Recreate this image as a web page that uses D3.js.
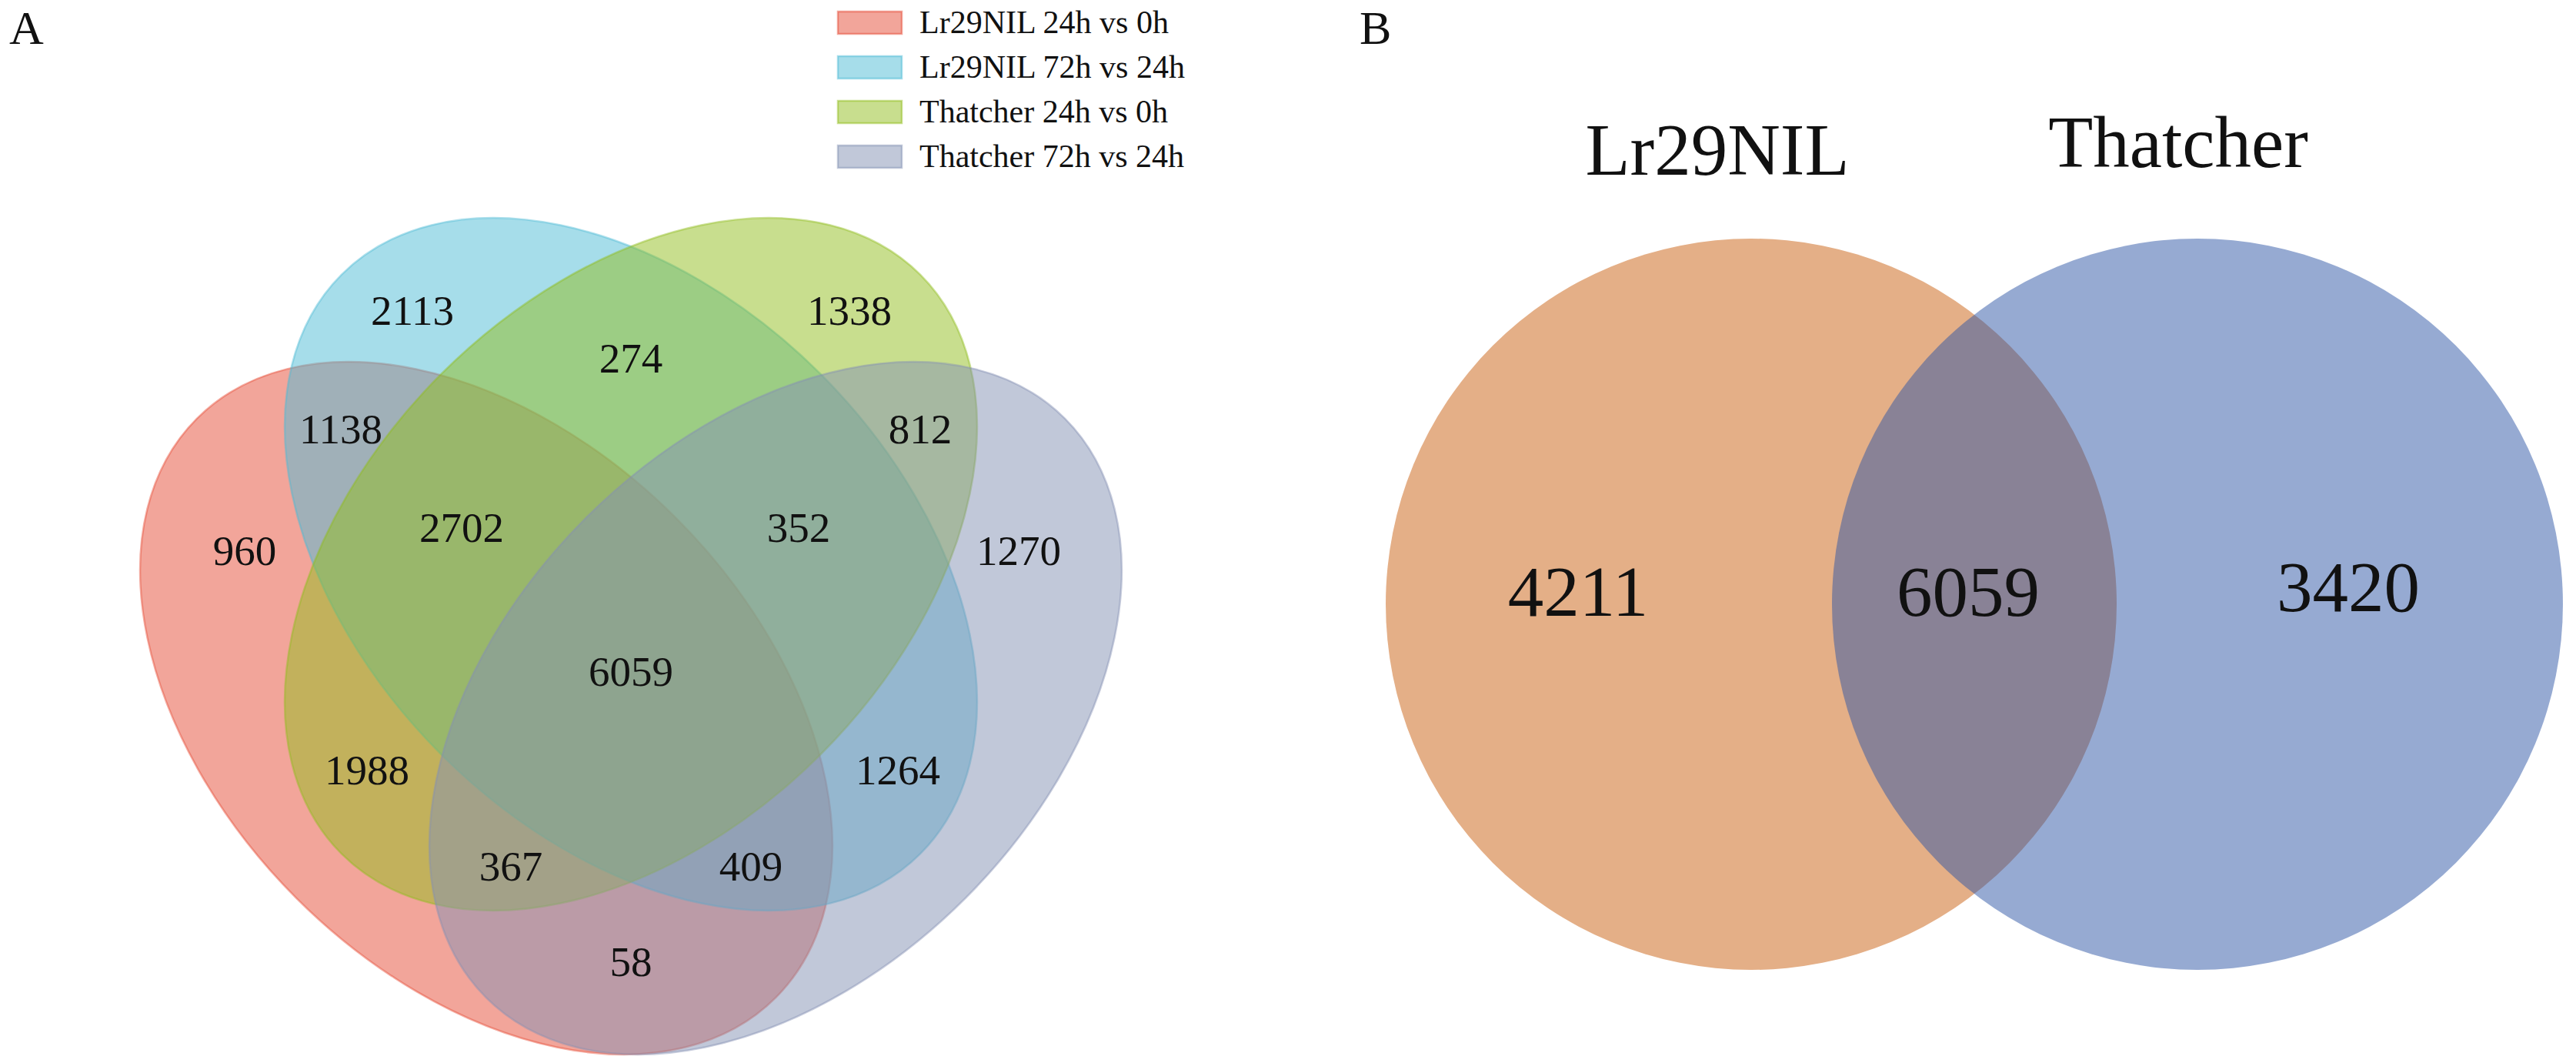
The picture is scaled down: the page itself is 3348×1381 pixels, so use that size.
<!DOCTYPE html>
<html>
<head>
<meta charset="utf-8">
<script src="https://cdn.jsdelivr.net/npm/d3@7"></script>
<style>
  html, body { margin: 0; padding: 0; background: #fff; }
  svg { display: block; }
  text { font-family: 'Liberation Serif', 'Times New Roman', serif; fill: #111; }
</style>
</head>
<body>
<svg id="chart" width="3348" height="1381"></svg>
<script>
'use strict';

// ---- panel A data: four DEG comparisons ----
const setNames = [
  'Lr29NIL 24h vs 0h',
  'Lr29NIL 72h vs 24h',
  'Thatcher 24h vs 0h',
  'Thatcher 72h vs 24h',
];
const setColors = ['#E64B35', '#4DBBD5', '#91BD1E', '#8491B4'];
// A = Lr29NIL 24h, B = Lr29NIL 72h, C = Thatcher 24h, D = Thatcher 72h
const regionKeys = ['A', 'B', 'C', 'D', 'AB', 'AC', 'AD', 'BC', 'BD', 'CD',
  'ABC', 'ABD', 'ACD', 'BCD', 'ABCD'];
const regionCounts = [960, 2113, 1338, 1270, 1138, 1988, 58, 274, 1264, 812,
  2702, 409, 367, 352, 6059];

// ---- panel B data: two cultivars ----
const pairNames = ['Lr29NIL', 'Thatcher'];
const pairColors = ['#E4AF87', '#2D55A5'];
const pairKeys = ['L', 'LT', 'T'];
const pairCounts = [4211, 6059, 3420];

// ---- layouts (unit space, like the classic 4-ellipse venn) ----
const quadLayout = {
  a: 0.4092,
  b: 0.2685,
  ellipses: [
    { cx: 0.3554, cy: 0.5719, rot: 45 },
    { cx: 0.5, cy: 0.4281, rot: 45 },
    { cx: 0.5, cy: 0.4281, rot: -45 },
    { cx: 0.6446, cy: 0.5719, rot: -45 },
  ],
  labels: {
    A: [0.1138, 0.4142], B: [0.2815, 0.1742], C: [0.7185, 0.1742], D: [0.8877, 0.4142],
    AB: [0.21, 0.2927], AC: [0.2362, 0.6335], AD: [0.5, 0.825], BC: [0.5, 0.2219],
    BD: [0.7669, 0.6335], CD: [0.7892, 0.2927], ABC: [0.3308, 0.3912],
    ABD: [0.62, 0.7296], ACD: [0.38, 0.7296], BCD: [0.6677, 0.3912], ABCD: [0.5, 0.535],
  },
};

// unit = circle radius, origin between the two centres
const pairLayout = {
  centres: [[-0.6105, 0], [0.6105, 0]],
  labels: { L: [-1.084, -0.034], LT: [-0.017, -0.034], T: [1.023, -0.048] },
  titles: [[-0.703, -1.175], [0.558, -1.195]],
};

const svg = d3.select('#chart');

// ================= panel A =================
const qx = d3.scaleLinear().domain([0, 1]).range([170, 1470]);
const qy = d3.scaleLinear().domain([0, 1]).range([176.5, 1476.5]);
const qlen = (v) => qx(v) - qx(0);

const gA = svg.append('g').attr('class', 'panelA');

gA.append('g')
  .selectAll('ellipse')
  .data(quadLayout.ellipses)
  .join('ellipse')
  .attr('cx', 0)
  .attr('cy', 0)
  .attr('rx', qlen(quadLayout.a))
  .attr('ry', qlen(quadLayout.b))
  .attr('transform', (d) => `translate(${qx(d.cx)},${qy(d.cy)}) rotate(${d.rot})`)
  .attr('fill', (d, i) => setColors[i])
  .attr('fill-opacity', 0.5)
  .attr('stroke', (d, i) => setColors[i])
  .attr('stroke-opacity', 0.45)
  .attr('stroke-width', 2.5);

gA.append('g')
  .selectAll('text')
  .data(regionKeys)
  .join('text')
  .attr('x', (k) => qx(quadLayout.labels[k][0]))
  .attr('y', (k) => qy(quadLayout.labels[k][1]))
  .attr('dy', '0.34em')
  .attr('text-anchor', 'middle')
  .attr('font-size', 55)
  .text((k, i) => regionCounts[i]);

// legend
const legend = gA.append('g').attr('transform', 'translate(1089,15)');
const row = legend
  .selectAll('g')
  .data(setNames)
  .join('g')
  .attr('transform', (d, i) => `translate(0,${i * 58})`);
row.append('rect')
  .attr('width', 83)
  .attr('height', 29)
  .attr('fill', (d, i) => setColors[i])
  .attr('fill-opacity', 0.5)
  .attr('stroke', (d, i) => setColors[i])
  .attr('stroke-opacity', 0.5)
  .attr('stroke-width', 2.5);
row.append('text')
  .attr('x', 106)
  .attr('y', 28)
  .attr('font-size', 42)
  .text((d) => d);

gA.append('text')
  .attr('x', 12)
  .attr('y', 57)
  .attr('font-size', 62)
  .text('A');

// ================= panel B =================
const R = 475;
const px = d3.scaleLinear().domain([-1, 1]).range([2566 - R, 2566 + R]);
const py = d3.scaleLinear().domain([-1, 1]).range([785 - R, 785 + R]);

const gB = svg.append('g').attr('class', 'panelB');

gB.append('g')
  .selectAll('circle')
  .data(pairLayout.centres)
  .join('circle')
  .attr('cx', (d) => px(d[0]))
  .attr('cy', (d) => py(d[1]))
  .attr('r', px(1) - px(0))
  .attr('fill', (d, i) => pairColors[i])
  .attr('fill-opacity', (d, i) => (i === 0 ? 1 : 0.5));

gB.append('g')
  .selectAll('text')
  .data(pairKeys)
  .join('text')
  .attr('x', (k) => px(pairLayout.labels[k][0]))
  .attr('y', (k) => py(pairLayout.labels[k][1]))
  .attr('dy', '0.34em')
  .attr('text-anchor', 'middle')
  .attr('font-size', 93)
  .text((k, i) => pairCounts[i]);

gB.append('g')
  .selectAll('text')
  .data(pairNames)
  .join('text')
  .attr('x', (d, i) => px(pairLayout.titles[i][0]))
  .attr('y', (d, i) => py(pairLayout.titles[i][1]))
  .attr('text-anchor', 'middle')
  .attr('font-size', 95)
  .text((d) => d);

gB.append('text')
  .attr('x', 1767)
  .attr('y', 57)
  .attr('font-size', 62)
  .text('B');
</script>
</body>
</html>
